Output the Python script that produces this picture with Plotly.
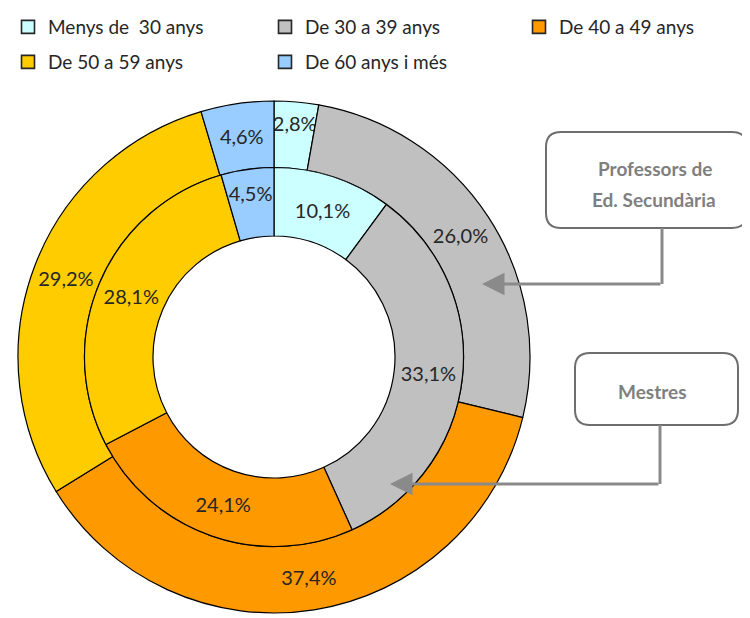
import plotly.graph_objects as go

categories = ["Menys de  30 anys", "De 30 a 39 anys", "De 40 a 49 anys",
              "De 50 a 59 anys", "De 60 anys i més"]
secundaria = [2.8, 26.0, 37.4, 29.2, 4.6]   # outer ring: Professors de Ed. Secundària
mestres = [10.1, 33.1, 24.1, 28.1, 4.5]     # inner ring: Mestres
colors = ["#CCFFFF", "#C0C0C0", "#FF9900", "#FFCC00", "#99CCFF"]
legend_slot = ["legend", "legend", "legend3", "legend2", "legend2"]

W, H = 750, 618
OFF = 8  # page body margin offset

def fmt(v):
    return f"{v:.1f}%".replace(".", ",")

def px(x):
    return (x - OFF) / W

def py(y):
    return 1 - (y - OFF) / H

def dom(cx, cy, r):
    return dict(x=[px(cx - r), px(cx + r)], y=[py(cy + r), py(cy - r)])

cx, cy = 274, 357
R_out, R_mid, R_in = 256, 189.5, 121

FONT = "Lato, sans-serif"
label_font = dict(family=FONT, size=20, color="#262626")

fig = go.Figure()
fig.add_trace(go.Pie(
    labels=categories, values=secundaria, sort=False, direction="clockwise", rotation=0,
    hole=R_mid / R_out, domain=dom(cx, cy, R_out),
    marker=dict(colors=colors, line=dict(color="black", width=1.2)),
    text=[fmt(v) for v in secundaria], textinfo="text", textposition="inside",
    insidetextorientation="horizontal", textfont=label_font,
    showlegend=False, name="Professors de Ed. Secundària", hoverinfo="label+text"))
fig.add_trace(go.Pie(
    labels=categories, values=mestres, sort=False, direction="clockwise", rotation=0,
    hole=R_in / R_mid, domain=dom(cx, cy, R_mid),
    marker=dict(colors=colors, line=dict(color="black", width=1.2)),
    text=[fmt(v) for v in mestres], textinfo="text", textposition="inside",
    insidetextorientation="horizontal", textfont=label_font,
    showlegend=False, name="Mestres", hoverinfo="label+text"))

# legend entries (two rows, three columns, as in the reference)
for cat, col, lg in zip(categories, colors, legend_slot):
    fig.add_trace(go.Scatter(
        x=[None], y=[None], mode="markers", name=cat.replace("  ", " \u00a0"),
        marker=dict(symbol="square", size=13, color=col, line=dict(color="#262626", width=1.6)),
        legend=lg, showlegend=True))

def rounded_rect(x0, y0, x1, y1, r):
    def p(x, y):
        return f"{px(x)},{py(y)}"
    return (f"M {p(x0 + r, y0)} L {p(x1 - r, y0)} Q {p(x1, y0)} {p(x1, y0 + r)} "
            f"L {p(x1, y1 - r)} Q {p(x1, y1)} {p(x1 - r, y1)} L {p(x0 + r, y1)} "
            f"Q {p(x0, y1)} {p(x0, y1 - r)} L {p(x0, y0 + r)} Q {p(x0, y0)} {p(x0 + r, y0)} Z")

shapes = []
for (x0, y0, x1, y1) in [(546, 132, 747, 228), (575, 353, 738, 425)]:
    shapes.append(dict(type="path", xref="paper", yref="paper",
                       path=rounded_rect(x0, y0, x1, y1, 15),
                       line=dict(color="#6E6E6E", width=2), fillcolor="white"))

LINE_COL = "#8A8A8A"
for (xb, yb, yl) in [(662, 228, 284), (660, 425, 484)]:
    shapes.append(dict(type="line", xref="paper", yref="paper",
                       x0=px(xb), y0=py(yb), x1=px(xb), y1=py(yl),
                       line=dict(color=LINE_COL, width=3)))

box_font = dict(family=FONT, size=19, color="#7F7F7F", weight="bold")
annotations = [
    dict(x=px(655), y=py(168), xref="paper", yref="paper", showarrow=False,
         xanchor="center", yanchor="middle", text="Professors de", font=box_font),
    dict(x=px(654), y=py(200), xref="paper", yref="paper", showarrow=False,
         xanchor="center", yanchor="middle", text="Ed. Secundària", font=box_font),
    dict(x=px(652), y=py(391), xref="paper", yref="paper", showarrow=False,
         xanchor="center", yanchor="middle", text="Mestres", font=box_font),
    dict(x=px(482), y=py(284), ax=662 - 482, ay=0, xref="paper", yref="paper",
         axref="pixel", ayref="pixel", showarrow=True, arrowhead=2, arrowsize=1.5,
         arrowwidth=3, arrowcolor=LINE_COL, text="", standoff=0),
    dict(x=px(390), y=py(484), ax=660 - 390, ay=0, xref="paper", yref="paper",
         axref="pixel", ayref="pixel", showarrow=True, arrowhead=2, arrowsize=1.5,
         arrowwidth=3, arrowcolor=LINE_COL, text="", standoff=0),
]

def legend_style(entrywidth):
    return dict(orientation="h", xanchor="left", yanchor="top",
                entrywidth=entrywidth, entrywidthmode="pixels",
                font=dict(family=FONT, size=19, color="#262626"),
                itemwidth=30, bgcolor="rgba(0,0,0,0)")

fig.update_layout(
    width=W, height=H, margin=dict(l=0, r=0, t=0, b=0),
    paper_bgcolor="white", plot_bgcolor="white",
    xaxis=dict(visible=False), yaxis=dict(visible=False),
    shapes=shapes, annotations=annotations,
    uniformtext=dict(mode="show", minsize=20),
    legend=dict(x=0, y=1, **legend_style(212)),
    legend3=dict(x=511 / W, y=1, **legend_style(150)),
    legend2=dict(x=0, y=py(43), **legend_style(212)),
)

fig.write_html("out.html")
